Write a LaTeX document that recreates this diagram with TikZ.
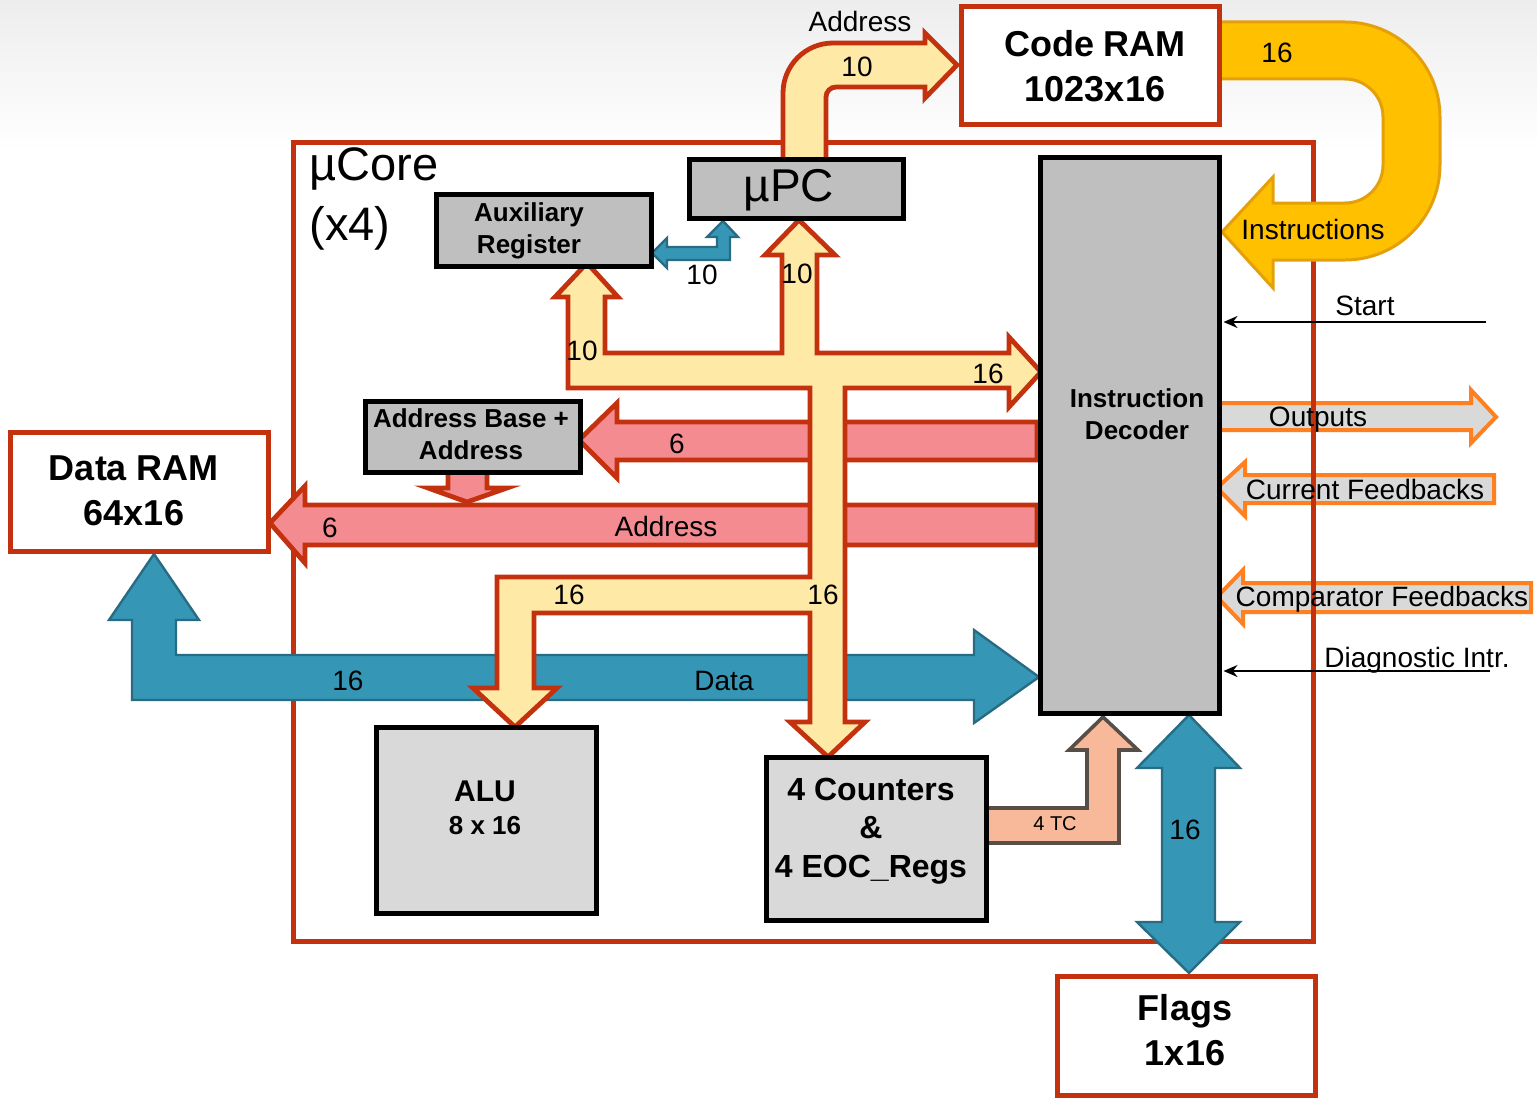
\documentclass[tikz,border=0pt]{standalone}
\usepackage{fontspec}
\setmainfont{Liberation Sans}
\usetikzlibrary{arrows.meta,fit}

\definecolor{ramred}{RGB}{195,49,14}
\definecolor{busyellow}{RGB}{255,233,166}
\definecolor{buspink}{RGB}{243,139,145}
\definecolor{busblue}{RGB}{53,150,182}
\definecolor{blueedge}{RGB}{40,108,132}
\definecolor{instrgold}{RGB}{255,192,0}
\definecolor{goldedge}{RGB}{228,160,10}
\definecolor{tcsalmon}{RGB}{248,185,155}
\definecolor{tcedge}{RGB}{88,78,72}
\definecolor{ioorange}{RGB}{255,128,32}
\definecolor{boxgray}{RGB}{191,191,191}
\definecolor{lightbox}{RGB}{217,217,217}

\begin{document}
\begin{tikzpicture}[x=0.5pt, y=-0.5pt, >={Stealth[length=7pt,width=6pt]},
  rambox/.style={draw=ramred, line width=2.5pt, fill=white, inner sep=0pt},
  regbox/.style={draw=black, line width=2.5pt, fill=boxgray, inner sep=0pt},
  unitbox/.style={regbox, fill=lightbox},
  boxtxt/.style={inner sep=0pt, align=center, font=\bfseries\fontsize{13}{16}\selectfont},
  ramtxt/.style={boxtxt, font=\bfseries\fontsize{18}{22.5}\selectfont},
  yellowbus/.style={draw=ramred, line width=2.4pt, fill=busyellow},
  pinkbus/.style={draw=ramred, line width=2.4pt, fill=buspink},
  bluebus/.style={draw=blueedge, line width=1.2pt, fill=busblue},
  iobus/.style={draw=ioorange, line width=2pt, fill=lightbox},
  lbl/.style={inner sep=0pt, font=\fontsize{14}{16}\selectfont, text height=10pt, text depth=0pt},
  sigline/.style={line width=1pt, ->, shorten >=1pt}]

  % background
  \shade[top color=black!7, bottom color=white] (0,0) rectangle (1537,150);
  \useasboundingbox (0,0) rectangle (1537,1102);

  % outputs and feedbacks
  \draw[iobus] (1217,403) -- (1471,403) -- (1471,390) -- (1496,417) -- (1471,443) -- (1471,430) -- (1217,430) -- cycle;
  \draw[iobus] (1494,475) -- (1245,475) -- (1245,462) -- (1217,488) -- (1245,516) -- (1245,503) -- (1494,503) -- cycle;
  \draw[iobus] (1531,583) -- (1243,583) -- (1243,570) -- (1217,597) -- (1243,624) -- (1243,612) -- (1531,612) -- cycle;

  % uCore frame
  \node[draw=ramred, line width=2.5pt, inner sep=0pt, fit={(293,143) (1313,941)}] (ucore) {};
  \node[anchor=west, align=left, inner sep=0pt, font=\fontsize{23.5}{30}\selectfont] (ucorelbl) at (309,199) {µCore\\(x4)};

  % data bus
  \draw[bluebus] (154,554) -- (199,620) -- (176,620) -- (176,655) -- (974,655) -- (974,630) -- (1039,677) -- (974,723) -- (974,700) -- (132,700) -- (132,620) -- (109,620) -- cycle;

  % address buses
  \draw[pinkbus] (1037,422) -- (617,422) -- (617,403) -- (579,440) -- (617,478) -- (617,460) -- (1037,460) -- cycle;
  \draw[pinkbus] (1037,505) -- (305,505) -- (305,486) -- (270,523) -- (305,563) -- (305,545) -- (1037,545) -- cycle;
  \draw[pinkbus] (448,472) -- (448,488) -- (428,488) -- (467,502) -- (507,488) -- (487,488) -- (487,472) -- cycle;

  % aux register <-> uPC
  \draw[bluebus] (652,253) -- (667,238) -- (667,247) -- (717,247) -- (717,237) -- (707,237) -- (723,221) -- (738,237) -- (730,237) -- (730,260) -- (667,260) -- (667,268) -- cycle;

  % internal bus
  \draw[yellowbus] (587,263) -- (618,297) -- (605,297) -- (605,353) -- (782,353) -- (782,255) -- (765,255) -- (799,220) -- (835,255) -- (817,255) -- (817,353) -- (1009,353) -- (1009,337) -- (1041,372) -- (1009,407) -- (1009,388) -- (845,388) -- (845,722) -- (865,722) -- (828,757) -- (790,722) -- (810,722) -- (810,613) -- (534,613) -- (534,688) -- (557,688) -- (515,727) -- (473,688) -- (497,688) -- (497,577) -- (810,577) -- (810,388) -- (568,388) -- (568,297) -- (555,297) -- cycle;

  % terminal count
  \draw[draw=tcedge, line width=1.8pt, fill=tcsalmon] (986,808) -- (1087,808) -- (1087,750) -- (1069,750) -- (1103,717) -- (1138,750) -- (1119,750) -- (1119,843) -- (986,843) -- cycle;

  % flags bus
  \draw[bluebus] (1189,715) -- (1240,768) -- (1215,768) -- (1215,922) -- (1240,922) -- (1189,973) -- (1137,922) -- (1162,922) -- (1162,768) -- (1137,768) -- cycle;

  % code address
  \draw[yellowbus] (783,160) -- (783,93) .. controls (783,65.4) and (805.4,43) .. (833,43) -- (925,43) -- (925,33) -- (957,65) -- (925,98) -- (925,87) -- (836,87) .. controls (830.5,87) and (826,91.5) .. (826,97) -- (826,160) -- cycle;

  % instructions
  \draw[draw=goldedge, line width=1.5pt, fill=instrgold] (1217,22) -- (1345,22) .. controls (1397.5,22) and (1440,64.5) .. (1440,117) -- (1440,165) .. controls (1440,217.5) and (1397.5,260) .. (1345,260) -- (1273,260) -- (1273,288) -- (1222,232) -- (1273,177) -- (1273,203) -- (1345,203) .. controls (1366,203) and (1383,186) .. (1383,165) -- (1383,117) .. controls (1383,96) and (1366,79) .. (1345,79) -- (1217,79) -- cycle;

  % blocks
  \node[rambox, fit={(961,7) (1219,125)}] (coderam) {};
  \node[regbox, fit={(689,160) (903,218)}] (upc) {};
  \node[regbox, fit={(436,194) (651,266)}] (auxreg) {};
  \node[regbox, fit={(1040,158) (1219,713)}] (dec) {};
  \node[regbox, fit={(365,401) (580,472)}] (addrbase) {};
  \node[rambox, fit={(10,432) (268,551)}] (dataram) {};
  \node[unitbox, fit={(376,727) (596,913)}] (alu) {};
  \node[unitbox, fit={(766,757) (986,920)}] (cnt) {};
  \node[rambox, fit={(1057,976) (1315,1095)}] (flags) {};

  \node[ramtxt] (coderamtxt) at (1095,66) {Code RAM\\1023x16};
  \node[inner sep=0pt, font=\fontsize{23}{28}\selectfont] (upctxt) at (789,190) {µPC};
  \node[boxtxt] (auxtxt) at (529,231) {Auxiliary\\Register};
  \node[boxtxt] (basetxt) at (471,434) {Address Base +\\Address};
  \node[ramtxt] (dataramtxt) at (134,491) {Data RAM\\64x16};
  \node[boxtxt] (dectxt) at (1137,414) {Instruction\\Decoder};
  \node[boxtxt, font=\bfseries\fontsize{15}{18}\selectfont] (alutxt) at (485,791) {ALU};
  \node[boxtxt] (alusize) at (485,826) {8 x 16};
  \node[boxtxt, font=\bfseries\fontsize{16}{19.3}\selectfont] (cnttxt) at (871,831) {4 Counters\\\&\\4 EOC\_Regs};
  \node[ramtxt] (flagstxt) at (1185,1030) {Flags\\1x16};

  % bus labels
  \node[lbl] (addrtop) at (860,22) {Address};
  \node[lbl] (codew) at (857,67) {10};
  \node[lbl] (instrw) at (1277,53) {16};
  \node[lbl] (instrlbl) at (1313,229) {Instructions};
  \node[lbl] (startlbl) at (1365,305) {Start};
  \node[lbl] (outlbl) at (1318,416) {Outputs};
  \node[lbl] (curlbl) at (1365,489) {Current Feedbacks};
  \node[lbl] (cmplbl) at (1382,596) {Comparator Feedbacks};
  \node[lbl] (diaglbl) at (1417,657) {Diagnostic Intr.};
  \node[lbl] (auxw) at (702,274) {10};
  \node[lbl] (upcw) at (797,273) {10};
  \node[lbl] (auxbusw) at (582,350) {10};
  \node[lbl] (decw) at (988,373) {16};
  \node[lbl] (basew) at (677,443) {6};
  \node[lbl] (ramaddrw) at (330,527) {6};
  \node[lbl] (ramaddr) at (666,526) {Address};
  \node[lbl] (aluw) at (569,594) {16};
  \node[lbl] (cntw) at (823,594) {16};
  \node[lbl] (dataw) at (348,680) {16};
  \node[lbl] (datalbl) at (724,680) {Data};
  \node[lbl, font=\fontsize{10}{12}\selectfont, text height=7pt] (tclbl) at (1055,823) {4 TC};
  \node[lbl] (flagsw) at (1185,829) {16};

  % control inputs
  \coordinate (startsrc) at (1486,322);
  \draw[sigline] (startsrc) -- (startsrc -| dec.east);
  \coordinate (diagsrc) at (1490,671);
  \draw[sigline] (diagsrc) -- (diagsrc -| dec.east);
\end{tikzpicture}
\end{document}
